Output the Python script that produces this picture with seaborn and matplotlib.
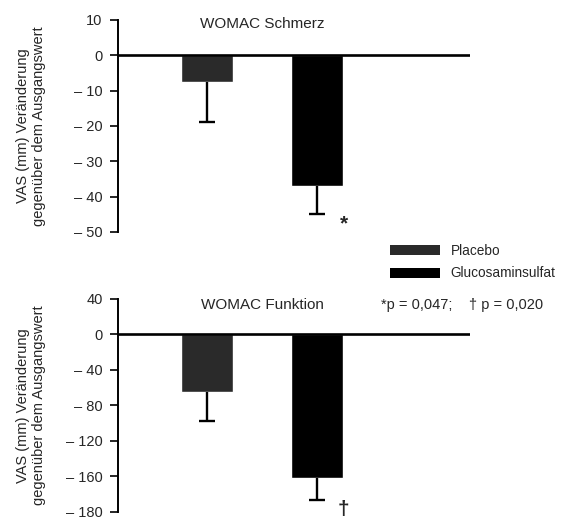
"""
WOMAC Schmerz / Funktion - Placebo vs Glucosaminsulfat
"""

import matplotlib
matplotlib.use("Agg")

import matplotlib.pyplot as plt
from matplotlib.patches import Patch
import seaborn as sns


# ============================================================
# Data
# ============================================================

groups = ["Placebo", "Glucosaminsulfat"]

pain_mean = [-7.5, -37.0]
pain_err = [11.5, 8.0]

function_mean = [-65.0, -162.0]
function_err = [33.0, 24.0]

pain_ticks = [10, 0, -10, -20, -30, -40, -50]
pain_labels = ["10", "0", "– 10", "– 20", "– 30", "– 40", "– 50"]

function_ticks = [40, 0, -40, -80, -120, -160, -200]
function_labels = ["40", "0", "– 40", "– 80", "– 120", "– 160", "– 180"]

bar_colors = ["#2a2a2a", "#000000"]

ylabel = "VAS (mm) Veränderung\ngegenüber dem Ausgangswert"

p_text = "*p = 0,047;    † p = 0,020"


# ============================================================
# Theme
# ============================================================

sns.set_theme(style="white")

plt.rcParams["font.family"] = ["Liberation Sans", "DejaVu Sans"]


# ============================================================
# Panel helper
# ============================================================

def draw_panel(ax, means, errs, ticks, labels, ylim, title, title_y, marker):

    sns.barplot(
        x=groups,
        y=means,
        hue=groups,
        palette=bar_colors,
        width=0.47,
        legend=False,
        ax=ax,
        saturation=1,
    )

    ends = [m - e for m, e in zip(means, errs)]

    ax.vlines(range(len(groups)), means, ends, color="black", linewidth=1.7)

    ax.hlines(
        ends,
        [i - 0.075 for i in range(len(groups))],
        [i + 0.075 for i in range(len(groups))],
        color="black",
        linewidth=1.7,
    )

    ax.axhline(0, color="black", linewidth=1.9, zorder=3)

    ax.set_xlim(-0.81, 2.39)
    ax.set_ylim(*ylim)

    ax.set_yticks(ticks)
    ax.set_yticklabels(labels, fontsize=10.5)

    ax.tick_params(
        axis="y",
        direction="out",
        length=6,
        width=1.4,
        left=True,
        pad=5,
    )

    ax.set_xticks([])
    ax.set_xlabel("")

    for side in ["top", "right", "bottom"]:
        ax.spines[side].set_visible(False)

    ax.spines["left"].set_linewidth(1.4)
    ax.spines["left"].set_color("black")

    ax.set_ylabel(ylabel, fontsize=10.5, linespacing=1.15)
    ax.yaxis.set_label_coords(-0.205, 0.5)

    ax.text(
        0.41,
        title_y,
        title,
        transform=ax.transAxes,
        ha="center",
        va="center",
        fontsize=11,
    )

    ax.text(
        1.24,
        ends[1],
        marker,
        ha="center",
        va="top",
        fontsize=15,
        fontweight="bold",
    )


# ============================================================
# Figure
# ============================================================

fig = plt.figure(figsize=(5.85, 5.19), dpi=100)

ax_top = fig.add_axes([0.2017, 0.553, 0.6017, 0.4085])
ax_bottom = fig.add_axes([0.2017, 0.0135, 0.6017, 0.4104])

draw_panel(
    ax_top,
    pain_mean,
    pain_err,
    pain_ticks,
    pain_labels,
    (-50, 10),
    "WOMAC Schmerz",
    0.981,
    "*",
)

draw_panel(
    ax_bottom,
    function_mean,
    function_err,
    function_ticks,
    function_labels,
    (-200, 40),
    "WOMAC Funktion",
    0.972,
    "†",
)


# ============================================================
# Legend and p-values
# ============================================================

handles = [
    Patch(facecolor=bar_colors[0], edgecolor="none", label=groups[0]),
    Patch(facecolor=bar_colors[1], edgecolor="none", label=groups[1]),
]

fig.legend(
    handles=handles,
    loc="center left",
    bbox_to_anchor=(390 / 585, 1 - 262 / 519),
    frameon=False,
    fontsize=9.8,
    handlelength=3.7,
    handleheight=0.74,
    handletextpad=0.74,
    labelspacing=0.65,
    borderpad=0,
    borderaxespad=0,
)

fig.text(
    381 / 585,
    1 - 305 / 519,
    p_text,
    ha="left",
    va="center",
    fontsize=10.5,
)

plt.savefig("out.png", dpi=100)

plt.close()
